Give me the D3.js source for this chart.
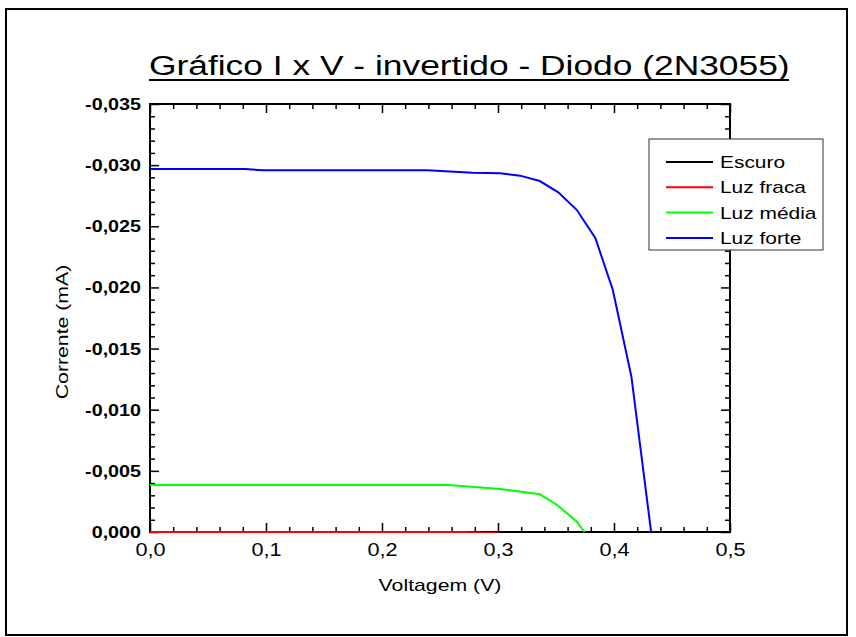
<!DOCTYPE html>
<html>
<head>
<meta charset="utf-8" />
<title>Gráfico I x V - invertido - Diodo (2N3055)</title>
<script src="https://cdn.jsdelivr.net/npm/d3@7"></script>
<style>
  body { margin: 0; background: #fff; }
  text { font-family: "Liberation Sans", Arial, sans-serif; fill: #000; }
  .tick line { stroke: #000; stroke-width: 1.5; }
</style>
</head>
<body>
<script>
// dados (V em volts, I em mA)
var xTicks = [0, 0.1, 0.2, 0.3, 0.4, 0.5];
var yTicks = [0, -0.005, -0.010, -0.015, -0.020, -0.025, -0.030, -0.035];

var escuroV = [0, 0.1, 0.2, 0.3, 0.4, 0.45];
var escuroI = [0, 0, 0, 0, 0, 0];

var fracaV = [0, 0.1, 0.2, 0.27, 0.30];
var fracaI = [0, 0, 0, 0, 0.0001];

var mediaV = [0, 0.1, 0.2, 0.257, 0.302, 0.336, 0.351, 0.368, 0.3745];
var mediaI = [-0.00384, -0.00384, -0.00384, -0.00385, -0.00352, -0.00308, -0.00221, -0.00084, 0];

var forteV = [0, 0.082, 0.097, 0.239, 0.278, 0.302, 0.319, 0.336, 0.352, 0.368, 0.384, 0.399, 0.415, 0.432];
var forteI = [-0.02968, -0.02968, -0.02958, -0.02958, -0.02938, -0.02933, -0.02914, -0.02870, -0.02778, -0.02633, -0.02402, -0.01979, -0.0127, 0];

var series = [
  { nome: "Escuro",    cor: "#000000", v: escuroV, i: escuroI },
  { nome: "Luz fraca", cor: "#ff0000", v: fracaV,  i: fracaI },
  { nome: "Luz média", cor: "#00ff00", v: mediaV,  i: mediaI },
  { nome: "Luz forte", cor: "#0000ff", v: forteV,  i: forteI }
];

var svg = d3.select("body").append("svg")
  .attr("width", 856)
  .attr("height", 637);

// moldura externa
svg.append("rect")
  .attr("x", 6).attr("y", 9)
  .attr("width", 841).attr("height", 626)
  .attr("fill", "none").attr("stroke", "#000").attr("stroke-width", 2);

var pLeft = 150, pRight = 730, pTop = 104, pBottom = 532;

var x = d3.scaleLinear().domain([0, 0.5]).range([pLeft, pRight]);
var y = d3.scaleLinear().domain([0, -0.035]).range([pBottom, pTop]);

// vírgula decimal e hífen como sinal de menos
var locale = d3.formatLocale({ decimal: ",", thousands: ".", grouping: [3], currency: ["", ""], minus: "-" });
var fmtX = locale.format(".1f");
var fmtY = locale.format(".3f");

var xMinor = d3.range(0, 0.5001, 0.02).filter(function (d) { return Math.abs(d * 10 - Math.round(d * 10)) > 1e-6; });
var yMinor = d3.range(0, -0.03501, -0.001).filter(function (d) { return Math.abs(d * 200 - Math.round(d * 200)) > 1e-6; });

function eixo(axis, tr) {
  var g = svg.append("g").attr("transform", tr).call(axis);
  g.select(".domain").remove();
  return g;
}

// eixo X (baixo e cima)
var gx = eixo(d3.axisBottom(x).tickValues(xTicks).tickSizeInner(-9).tickSizeOuter(0).tickPadding(11).tickFormat(fmtX),
  "translate(0," + pBottom + ")");
gx.selectAll("text").style("font-size", "19px").attr("transform", "scale(1.14,1)");
eixo(d3.axisBottom(x).tickValues(xMinor).tickSize(-5).tickFormat(""), "translate(0," + pBottom + ")");
eixo(d3.axisTop(x).tickValues(xTicks).tickSize(-9).tickFormat(""), "translate(0," + pTop + ")");
eixo(d3.axisTop(x).tickValues(xMinor).tickSize(-5).tickFormat(""), "translate(0," + pTop + ")");

// eixo Y (esquerda e direita)
var gy = eixo(d3.axisLeft(y).tickValues(yTicks).tickSizeInner(-9).tickSizeOuter(0).tickPadding(9).tickFormat(fmtY),
  "translate(" + pLeft + ",0)");
gy.selectAll("text").style("font-size", "17px").style("font-weight", "bold")
  .attr("x", -9 / 1.16).attr("transform", "scale(1.16,1)");
eixo(d3.axisLeft(y).tickValues(yMinor).tickSize(-5).tickFormat(""), "translate(" + pLeft + ",0)");
eixo(d3.axisRight(y).tickValues(yTicks).tickSize(-9).tickFormat(""), "translate(" + pRight + ",0)");
eixo(d3.axisRight(y).tickValues(yMinor).tickSize(-5).tickFormat(""), "translate(" + pRight + ",0)");

// contorno da área do gráfico
svg.append("rect")
  .attr("x", pLeft).attr("y", pTop)
  .attr("width", pRight - pLeft).attr("height", pBottom - pTop)
  .attr("fill", "none").attr("stroke", "#000").attr("stroke-width", 2);

// curvas
svg.append("clipPath").attr("id", "area")
  .append("rect").attr("x", pLeft - 1).attr("y", pTop - 1)
  .attr("width", pRight - pLeft + 2).attr("height", pBottom - pTop + 2);

var linha = d3.line()
  .x(function (d) { return x(d[0]); })
  .y(function (d) { return y(d[1]); });

svg.append("g").attr("clip-path", "url(#area)")
  .selectAll("path")
  .data(series)
  .enter().append("path")
  .attr("fill", "none")
  .attr("stroke", function (d) { return d.cor; })
  .attr("stroke-width", 2)
  .attr("d", function (d) { return linha(d3.zip(d.v, d.i)); });

// título
svg.append("text")
  .attr("transform", "translate(149,75) scale(1.31,1)")
  .style("font-size", "27px")
  .text("Gráfico I x V - invertido - Diodo (2N3055)");
svg.append("line")
  .attr("x1", 149).attr("x2", 789)
  .attr("y1", 80).attr("y2", 80)
  .attr("stroke", "#000").attr("stroke-width", 2);

// rótulos dos eixos
svg.append("text")
  .attr("transform", "translate(440,591) scale(1.25,1)")
  .attr("text-anchor", "middle")
  .style("font-size", "17px")
  .text("Voltagem (V)");
svg.append("text")
  .attr("transform", "translate(68,332) rotate(-90) scale(1.25,1)")
  .attr("text-anchor", "middle")
  .style("font-size", "17px")
  .text("Corrente (mA)");

// legenda
var leg = svg.append("g");
leg.append("rect")
  .attr("x", 649).attr("y", 139)
  .attr("width", 174).attr("height", 111)
  .attr("fill", "#fff").attr("stroke", "#333").attr("stroke-width", 1);

var itens = leg.selectAll(".item")
  .data(series)
  .enter().append("g")
  .attr("transform", function (d, k) { return "translate(0," + (162 + k * 25.3) + ")"; });
itens.append("line")
  .attr("x1", 666).attr("x2", 713)
  .attr("stroke", function (d) { return d.cor; })
  .attr("stroke-width", 2);
itens.append("text")
  .attr("transform", "translate(720,6) scale(1.23,1)")
  .style("font-size", "17px")
  .text(function (d) { return d.nome; });
</script>
</body>
</html>
